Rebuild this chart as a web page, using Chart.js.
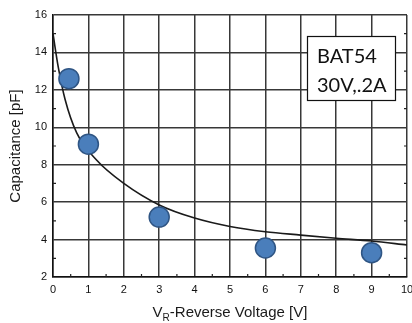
<!DOCTYPE html>
<html>
<head>
<meta charset="utf-8">
<script src="https://cdn.jsdelivr.net/npm/chart.js@4/dist/chart.umd.min.js"></script>
<style>
  html, body { margin: 0; padding: 0; background: #fff; }
  #wrap { width: 412px; height: 323px; position: relative; }
</style>
</head>
<body>
<div id="wrap"><canvas id="c" width="412" height="323"></canvas></div>
<script>
// measured points (blue markers)
const pointX = [0.45, 1, 3, 6, 9];
const pointY = [12.6, 9.1, 5.2, 3.55, 3.3];

// fitted curve
const curveX = [0, 0.15, 0.34, 0.67, 1.23, 2, 3, 4, 5, 6, 7, 8, 9, 10];
const curveY = [15.0, 13.2, 11.5, 9.7, 8.25, 7.0, 5.85, 5.15, 4.7, 4.42, 4.24, 4.07, 3.92, 3.71];

const xMin = 0, xMax = 10, xStep = 1;
const yMin = 2, yMax = 16, yStep = 2;

const labelBox = ['BAT54', '30V,.2A'];

const toXY = (xs, ys) => xs.map((x, i) => ({ x: x, y: ys[i] }));

// minor ticks + subscript x title + label box
const extras = {
  id: 'extras',
  afterDraw(chart) {
    const ctx = chart.ctx;
    const xs = chart.scales.x, ys = chart.scales.y;
    const a = chart.chartArea;
    ctx.save();
    ctx.strokeStyle = '#222';
    ctx.lineWidth = 1.2;
    ctx.beginPath();
    for (let v = yMin + 1; v < yMax; v += 2) {
      const py = ys.getPixelForValue(v);
      ctx.moveTo(a.left, py); ctx.lineTo(a.left + 3, py);
      ctx.moveTo(a.right, py); ctx.lineTo(a.right - 3, py);
    }
    for (let v = xMin + 0.5; v < xMax; v += 1) {
      const px = xs.getPixelForValue(v);
      ctx.moveTo(px, a.bottom); ctx.lineTo(px, a.bottom - 3);
    }
    ctx.stroke();

    // x axis title with subscript R
    ctx.fillStyle = '#1a1a1a';
    ctx.textBaseline = 'alphabetic';
    const big = '15px "Liberation Sans", Arial, sans-serif';
    const small = '10px "Liberation Sans", Arial, sans-serif';
    ctx.font = big;
    const w1 = ctx.measureText('V').width;
    const w3 = ctx.measureText('-Reverse Voltage [V]').width;
    ctx.font = small;
    const w2 = ctx.measureText('R').width;
    const total = w1 + w2 + w3;
    let tx = (a.left + a.right) / 2 - total / 2;
    const base = 317;
    ctx.font = big; ctx.textAlign = 'left';
    ctx.fillText('V', tx, base); tx += w1;
    ctx.font = small;
    ctx.fillText('R', tx, base + 4); tx += w2;
    ctx.font = big;
    ctx.fillText('-Reverse Voltage [V]', tx, base);

    // label box
    const bx = 307, by = 36, bw = 88, bh = 64;
    ctx.fillStyle = '#fff';
    ctx.fillRect(bx, by, bw, bh);
    ctx.strokeStyle = '#111';
    ctx.lineWidth = 1.2;
    ctx.strokeRect(bx + 0.5, by + 0.5, bw, bh);
    ctx.fillStyle = '#111';
    ctx.font = '20px Lato, "Open Sans", sans-serif';
    ctx.fillText(labelBox[0], 317, 63);
    ctx.fillText(labelBox[1], 317, 92);
    ctx.restore();
  }
};

const gridColor = '#383838';
const tickFont = { family: '"Liberation Sans", Arial, sans-serif', size: 11 };

new Chart(document.getElementById('c'), {
  type: 'scatter',
  data: {
    datasets: [
      {
        label: 'measured',
        data: toXY(pointX, pointY),
        backgroundColor: '#4a7ebb',
        borderColor: '#2f5584',
        borderWidth: 1.5,
        pointRadius: 10,
        order: 0
      },
      {
        label: 'fit',
        data: toXY(curveX, curveY),
        showLine: true,
        borderColor: '#1a1a1a',
        borderWidth: 1.6,
        pointRadius: 0,
        cubicInterpolationMode: 'monotone',
        order: 1
      }
    ]
  },
  options: {
    responsive: false,
    animation: false,
    layout: { autoPadding: false, padding: { top: 15, right: 5, left: 0, bottom: 0 } },
    plugins: { legend: { display: false }, tooltip: { enabled: false } },
    scales: {
      x: {
        type: 'linear',
        min: xMin, max: xMax,
        ticks: { stepSize: xStep, padding: 6, color: '#111', font: tickFont },
        grid: { color: gridColor, lineWidth: 1.5, drawTicks: false },
        border: { color: '#111', width: 1.5 },
        afterFit(s) { s.height = 46; s.paddingRight = 0; s.paddingLeft = 0; }
      },
      y: {
        min: yMin, max: yMax,
        ticks: { stepSize: yStep, padding: 6, color: '#111', font: tickFont },
        grid: { color: gridColor, lineWidth: 1.5, drawTicks: false },
        border: { color: '#111', width: 1.5 },
        title: {
          display: true,
          text: 'Capacitance [pF]',
          color: '#1a1a1a',
          padding: { top: 7, bottom: 0 },
          font: { family: '"Liberation Sans", Arial, sans-serif', size: 15 }
        },
        afterFit(s) { s.width = 53; s.paddingTop = 0; s.paddingBottom = 0; }
      }
    }
  },
  plugins: [extras]
});
</script>
</body>
</html>
